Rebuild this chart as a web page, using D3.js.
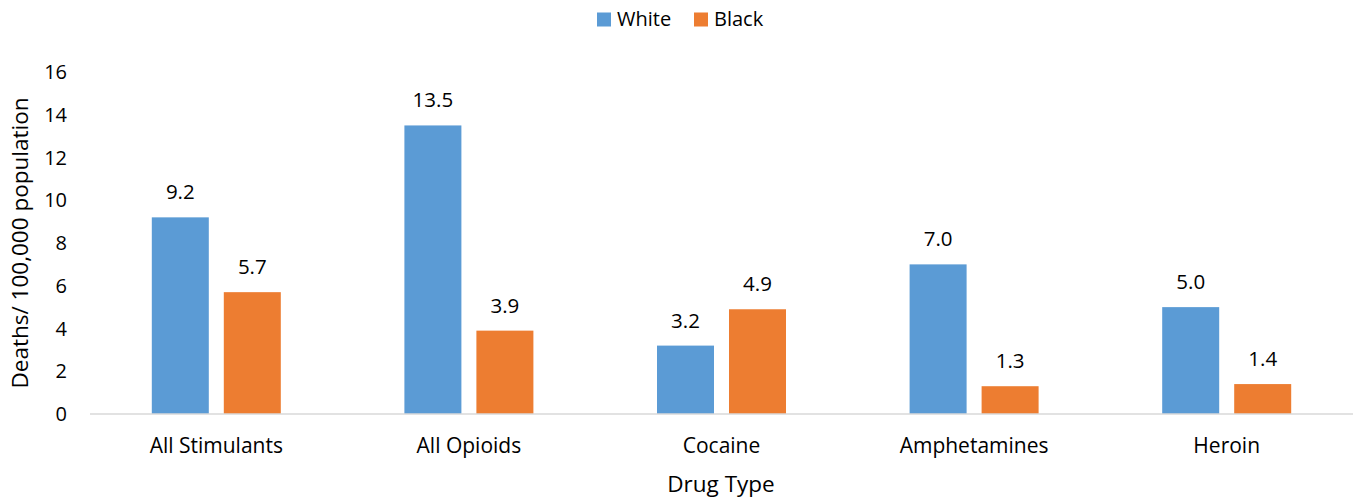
<!DOCTYPE html>
<html>
<head>
<meta charset="utf-8">
<script src="https://cdn.jsdelivr.net/npm/d3@7"></script>
<style>
  body { margin: 0; background: #fff; }
  text { font-family: "Open Sans", "Noto Sans", sans-serif; fill: #000; }
</style>
</head>
<body>
<svg id="chart" width="1356" height="499"></svg>
<script>
// Chart data
var categories = ["All Stimulants", "All Opioids", "Cocaine", "Amphetamines", "Heroin"];
var seriesNames = ["White", "Black"];
var whiteValues = [9.2, 13.5, 3.2, 7.0, 5.0];
var blackValues = [5.7, 3.9, 4.9, 1.3, 1.4];
var yTicks = [0, 2, 4, 6, 8, 10, 12, 14, 16];

var colors = ["#5b9bd5", "#ed7d31"];

var svg = d3.select("#chart");

var x0 = d3.scaleBand()
  .domain(categories)
  .range([90, 1353])
  .paddingInner(0.49)
  .paddingOuter(0.245);

var y = d3.scaleLinear()
  .domain([0, 16])
  .range([414, 72]);

// Bar width 57 with a 15px gap inside each group
var barW = 57, barGap = 15;

var rows = categories.map(function (c, i) {
  return { cat: c, vals: [whiteValues[i], blackValues[i]] };
});

// y tick labels
svg.append("g")
  .selectAll("text")
  .data(yTicks)
  .enter().append("text")
  .attr("x", 67)
  .attr("y", function (d) { return y(d); })
  .attr("dy", "0.36em")
  .attr("text-anchor", "end")
  .style("font-size", "20px")
  .text(function (d) { return d; });

// bars
var groups = svg.append("g")
  .selectAll("g")
  .data(rows)
  .enter().append("g")
  .attr("transform", function (d) {
    var center = x0(d.cat) + x0.bandwidth() / 2;
    return "translate(" + (center - barW - barGap / 2) + ",0)";
  });

groups.selectAll("rect")
  .data(function (d) { return d.vals; })
  .enter().append("rect")
  .attr("x", function (d, i) { return i * (barW + barGap); })
  .attr("y", function (d) { return y(d); })
  .attr("width", barW)
  .attr("height", function (d) { return y(0) - y(d); })
  .attr("fill", function (d, i) { return colors[i]; });

groups.selectAll("text")
  .data(function (d) { return d.vals; })
  .enter().append("text")
  .attr("x", function (d, i) { return i * (barW + barGap) + barW / 2; })
  .attr("y", function (d) { return y(d) - 18; })
  .attr("text-anchor", "middle")
  .style("font-size", "20.5px")
  .text(function (d) { return d.toFixed(1); });

// x axis line
svg.append("line")
  .attr("x1", 90).attr("x2", 1353)
  .attr("y1", y(0)).attr("y2", y(0))
  .attr("stroke", "#d9d9d9")
  .attr("stroke-width", 1.5);

// category labels
svg.append("g")
  .selectAll("text")
  .data(categories)
  .enter().append("text")
  .attr("x", function (d) { return x0(d) + x0.bandwidth() / 2; })
  .attr("y", 453)
  .attr("text-anchor", "middle")
  .style("font-size", "21px")
  .text(function (d) { return d; });

// axis titles
svg.append("text")
  .attr("x", 721)
  .attr("y", 492)
  .attr("text-anchor", "middle")
  .style("font-size", "22.5px")
  .text("Drug Type");

svg.append("text")
  .attr("transform", "translate(20,243) rotate(-90)")
  .attr("dy", "0.35em")
  .attr("text-anchor", "middle")
  .style("font-size", "22.5px")
  .text("Deaths/ 100,000 population");

// legend
var legendX = [597, 694];
var legend = svg.append("g")
  .selectAll("g")
  .data(seriesNames)
  .enter().append("g")
  .attr("transform", function (d, i) { return "translate(" + legendX[i] + ",12)"; });

legend.append("rect")
  .attr("width", 14).attr("height", 14)
  .attr("y", 0.5)
  .attr("fill", function (d, i) { return colors[i]; });

legend.append("text")
  .attr("x", 20)
  .attr("y", 14)
  .style("font-size", "20px")
  .text(function (d) { return d; });
</script>
</body>
</html>
